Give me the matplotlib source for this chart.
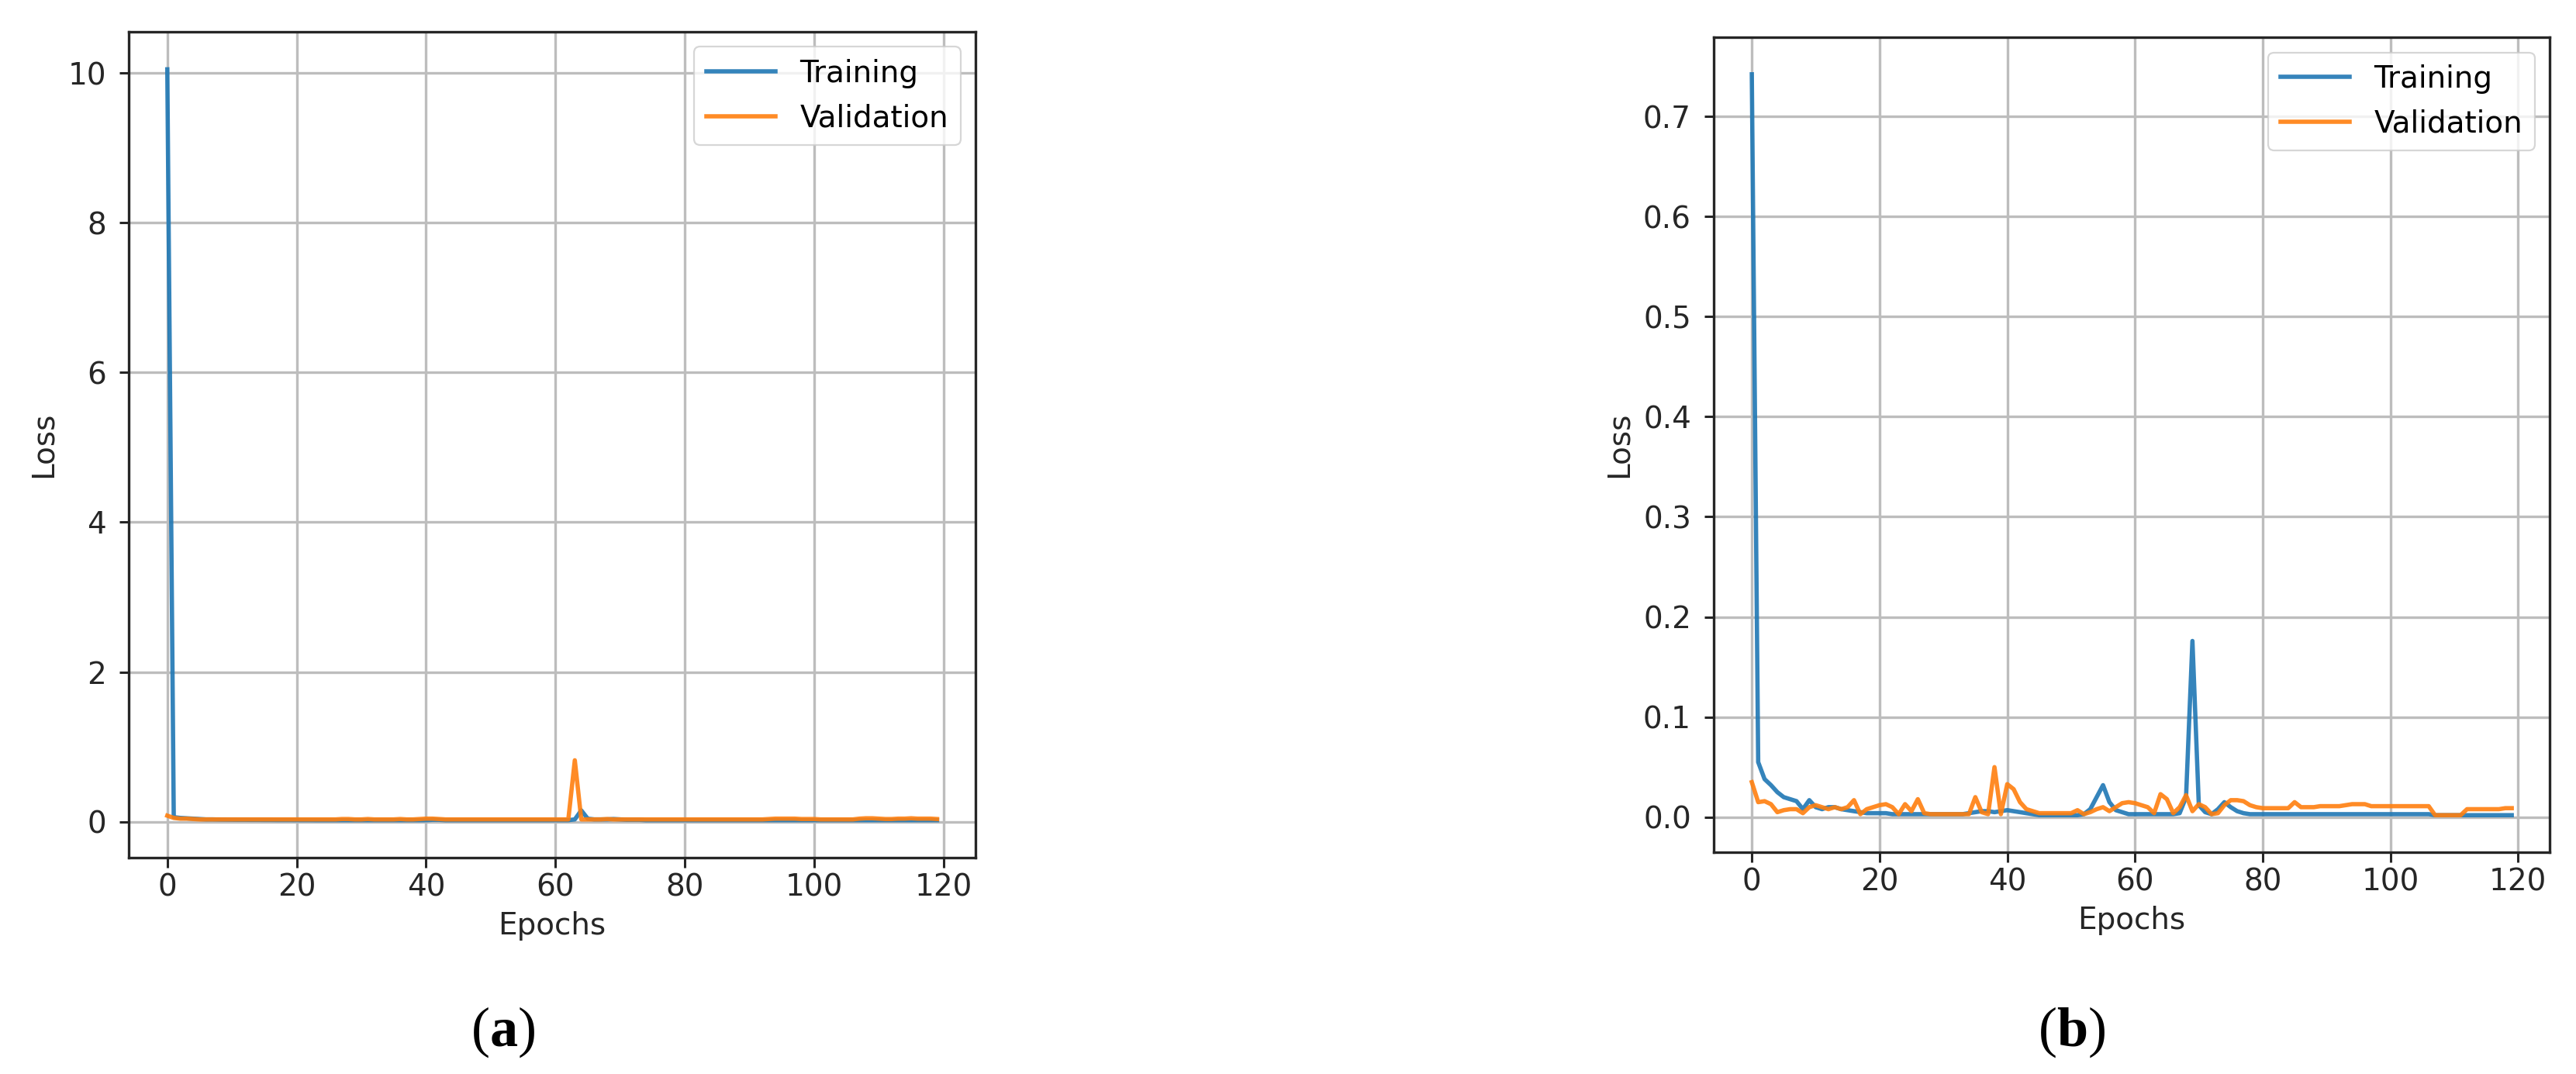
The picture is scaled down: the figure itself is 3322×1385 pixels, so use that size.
import numpy as np
import matplotlib
matplotlib.use("Agg")
import matplotlib.pyplot as plt

epochs = np.arange(120)

# (a) loss curves
train_a = [10.05, 0.06, 0.05, 0.045, 0.04, 0.035, 0.03, 0.03, 0.028, 0.027,
           0.026, 0.025, 0.025, 0.024, 0.024, 0.023, 0.023, 0.022, 0.022, 0.022,
           0.021, 0.021, 0.021, 0.02, 0.02, 0.02, 0.02, 0.02, 0.02, 0.02,
           0.02, 0.02, 0.02, 0.02, 0.02, 0.02, 0.02, 0.02, 0.02, 0.02,
           0.02, 0.025, 0.025, 0.02, 0.02, 0.02, 0.02, 0.02, 0.02, 0.02,
           0.02, 0.02, 0.02, 0.02, 0.02, 0.02, 0.02, 0.02, 0.02, 0.02,
           0.02, 0.02, 0.02, 0.03, 0.15, 0.04, 0.03, 0.03, 0.03, 0.035,
           0.03, 0.025, 0.025, 0.025, 0.02, 0.02, 0.02, 0.02, 0.02, 0.02,
           0.02, 0.02, 0.02, 0.02, 0.02, 0.02, 0.02, 0.02, 0.02, 0.02,
           0.02, 0.02, 0.02, 0.02, 0.02, 0.02, 0.02, 0.02, 0.02, 0.02,
           0.02, 0.02, 0.02, 0.02, 0.02, 0.02, 0.02, 0.02, 0.02, 0.02,
           0.02, 0.02, 0.02, 0.02, 0.02, 0.02, 0.02, 0.02, 0.02, 0.02]
val_a = [0.08, 0.05, 0.04, 0.04, 0.035, 0.03, 0.03, 0.03, 0.03, 0.03,
         0.03, 0.03, 0.03, 0.03, 0.03, 0.03, 0.03, 0.03, 0.03, 0.03,
         0.03, 0.03, 0.03, 0.03, 0.03, 0.03, 0.03, 0.035, 0.035, 0.03,
         0.03, 0.035, 0.03, 0.03, 0.03, 0.03, 0.035, 0.03, 0.03, 0.035,
         0.04, 0.04, 0.035, 0.03, 0.03, 0.03, 0.03, 0.03, 0.03, 0.03,
         0.03, 0.03, 0.03, 0.03, 0.03, 0.03, 0.03, 0.03, 0.03, 0.03,
         0.03, 0.03, 0.03, 0.82, 0.03, 0.03, 0.03, 0.03, 0.035, 0.03,
         0.03, 0.03, 0.03, 0.03, 0.03, 0.03, 0.03, 0.03, 0.03, 0.03,
         0.03, 0.03, 0.03, 0.03, 0.03, 0.03, 0.03, 0.03, 0.03, 0.03,
         0.03, 0.03, 0.03, 0.035, 0.04, 0.04, 0.04, 0.04, 0.035, 0.035,
         0.035, 0.03, 0.03, 0.03, 0.03, 0.03, 0.03, 0.04, 0.045, 0.045,
         0.04, 0.035, 0.035, 0.04, 0.04, 0.045, 0.04, 0.04, 0.04, 0.035]

# (b) loss curves
train_b = [0.742, 0.055, 0.038, 0.032, 0.025, 0.02, 0.018, 0.016, 0.008, 0.017,
           0.01, 0.008, 0.01, 0.01, 0.008, 0.007, 0.006, 0.005, 0.004, 0.004,
           0.004, 0.004, 0.003, 0.003, 0.003, 0.003, 0.003, 0.003, 0.003, 0.003,
           0.003, 0.003, 0.003, 0.003, 0.004, 0.005, 0.006, 0.006, 0.005, 0.006,
           0.007, 0.006, 0.005, 0.004, 0.003, 0.002, 0.002, 0.002, 0.002, 0.002,
           0.002, 0.002, 0.003, 0.008, 0.02, 0.032, 0.015, 0.007, 0.005, 0.003,
           0.003, 0.003, 0.003, 0.003, 0.003, 0.003, 0.003, 0.004, 0.02, 0.176,
           0.012, 0.005, 0.003, 0.008, 0.015, 0.01, 0.006, 0.004, 0.003, 0.003,
           0.003, 0.003, 0.003, 0.003, 0.003, 0.003, 0.003, 0.003, 0.003, 0.003,
           0.003, 0.003, 0.003, 0.003, 0.003, 0.003, 0.003, 0.003, 0.003, 0.003,
           0.003, 0.003, 0.003, 0.003, 0.003, 0.003, 0.003, 0.002, 0.002, 0.002,
           0.002, 0.002, 0.002, 0.002, 0.002, 0.002, 0.002, 0.002, 0.002, 0.002]
val_b = [0.035, 0.015, 0.016, 0.013, 0.005, 0.007, 0.008, 0.008, 0.004, 0.01,
         0.012, 0.01, 0.008, 0.01, 0.008, 0.01, 0.017, 0.003, 0.008, 0.01,
         0.012, 0.013, 0.01, 0.003, 0.013, 0.006, 0.018, 0.004, 0.003, 0.003,
         0.003, 0.003, 0.003, 0.003, 0.003, 0.02, 0.005, 0.003, 0.05, 0.003,
         0.033, 0.028, 0.015, 0.008, 0.006, 0.004, 0.004, 0.004, 0.004, 0.004,
         0.004, 0.007, 0.003, 0.005, 0.008, 0.01, 0.006, 0.01, 0.014, 0.015,
         0.014, 0.012, 0.01, 0.004, 0.023, 0.018, 0.004, 0.01, 0.022, 0.006,
         0.013, 0.01, 0.003, 0.004, 0.012, 0.017, 0.017, 0.016, 0.012, 0.01,
         0.009, 0.009, 0.009, 0.009, 0.009, 0.015, 0.01, 0.01, 0.01, 0.011,
         0.011, 0.011, 0.011, 0.012, 0.013, 0.013, 0.013, 0.011, 0.011, 0.011,
         0.011, 0.011, 0.011, 0.011, 0.011, 0.011, 0.011, 0.002, 0.002, 0.002,
         0.002, 0.002, 0.008, 0.008, 0.008, 0.008, 0.008, 0.008, 0.009, 0.009]

plt.rcParams['font.family'] = 'DejaVu Sans'
plt.rcParams['mathtext.fontset'] = 'custom'
plt.rcParams['mathtext.rm'] = 'Liberation Serif'
plt.rcParams['mathtext.bf'] = 'Liberation Serif:bold'
fs = 28
ink = '#262626'

fig = plt.figure(figsize=(33.22, 13.85), dpi=100)
ax_a = fig.add_axes([0.0500, 0.2014, 0.3287, 0.7690])
ax_b = fig.add_axes([0.6653, 0.2065, 0.3245, 0.7588])

for ax, tr, va in [(ax_a, train_a, val_a), (ax_b, train_b, val_b)]:
    ax.plot(epochs, tr, color='#1f77b4', lw=4, label='Training', alpha=0.9)
    ax.plot(epochs, va, color='#ff7f0e', lw=4, label='Validation', alpha=0.9)
    ax.grid(True, color='#bdbdbd', lw=2.4)
    ax.set_xlabel('Epochs', fontsize=fs, color=ink, labelpad=8)
    ax.set_ylabel('Loss', fontsize=fs, color=ink, labelpad=9)
    ax.tick_params(labelsize=fs, width=2.2, length=9, colors=ink)
    ax.tick_params(axis='y', pad=12)
    ax.tick_params(axis='x', pad=5)
    for s in ax.spines.values():
        s.set_linewidth(2.4)
        s.set_color(ink)
    leg = ax.legend(loc='upper right', fontsize=fs, framealpha=0.8,
                    handlelength=2.3)
    leg.get_frame().set_linewidth(1.6)

fig.text(0.1951, 0.039, r'($\mathbf{a}$)', ha='center', va='center',
         fontsize=52, family='Liberation Serif')
fig.text(0.8043, 0.039, r'($\mathbf{b}$)', ha='center', va='center',
         fontsize=52, family='Liberation Serif')

fig.savefig('out.png', dpi=100)
